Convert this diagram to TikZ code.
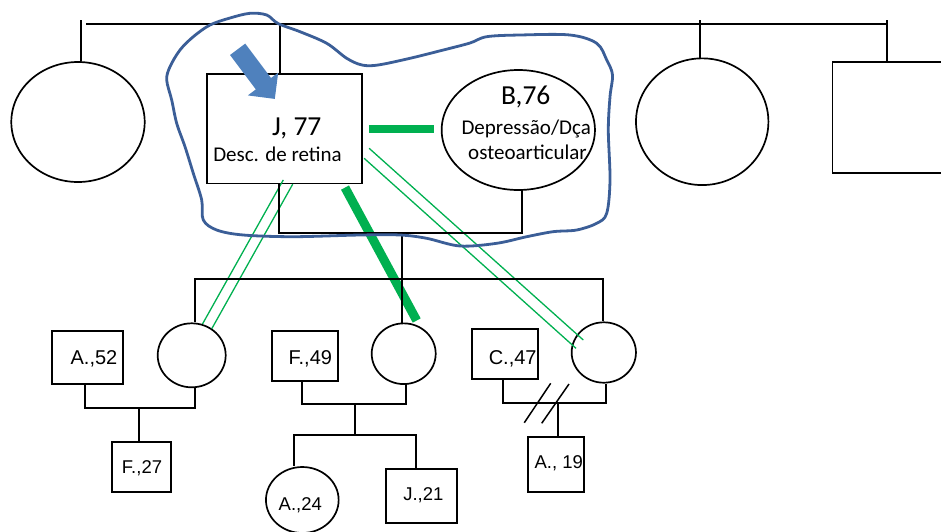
\documentclass[tikz,border=0pt]{standalone}
\usepackage{fontspec}
\setmainfont{Liberation Sans}
\newfontfamily\calibri{Carlito}
\usetikzlibrary{shapes.geometric,calc}
\definecolor{bondgreen}{RGB}{0,176,80}
\definecolor{focusblue}{RGB}{59,94,151}
\definecolor{arrowblue}{RGB}{79,129,189}

\begin{document}
\begin{tikzpicture}[x=1pt,y=-1pt,
  line/.style={line width=1.7pt, black},
  male/.style={draw, line width=1.7pt, rectangle, inner sep=0pt},
  female/.style={draw, line width=1.7pt, ellipse, inner sep=0pt},
  tag/.style={anchor=base, inner sep=0pt, font=\fontsize{20}{24}\selectfont},
  smalltag/.style={tag, font=\fontsize{18.5}{22}\selectfont},
  bigname/.style={anchor=base, inner sep=0pt, font=\calibri\fontsize{27.5}{32}\selectfont},
  note/.style={anchor=base, inner sep=0pt, font=\calibri\fontsize{21}{25}\selectfont},
  bondthin/.style={draw=bondgreen, line width=1.3pt},
  bondthick/.style={draw=bondgreen, line width=9pt},
]
\useasboundingbox (0,0) rectangle (941,531);

% first generation
\node[female, minimum width=133.4pt, minimum height=120pt] (s1) at (78,122) {};
\node[male, minimum width=155.6pt, minimum height=109.3pt] (jb) at (284.5,128.7) {};
\node[female, minimum width=153.3pt, minimum height=120pt] (bb) at (518.3,130) {};
\node[female, minimum width=132.4pt, minimum height=126.7pt] (s3) at (702.2,121.7) {};
\node[male, minimum width=113.7pt, minimum height=111pt] (s4) at (889.2,117.2) {};

\node[bigname] (jname) at (296.7,135) {J, 77};
\node[note] (jdx) at (277.5,161.7) {Desc. de retina};
\node[bigname] (bname) at (525.7,104) {B,76};
\node[note] (bdx1) at (526.2,134) {Depressão/Dça};
\node[note] (bdx2) at (527.5,159.5) {osteoarticular};

% second generation
\node[female, minimum width=68pt, minimum height=64pt] (c1) at (191.7,355.3) {};
\node[female, minimum width=64pt, minimum height=60.7pt] (c2) at (403.7,353.7) {};
\node[female, minimum width=64.3pt, minimum height=60.4pt] (c3) at (603.8,352.5) {};
\node[male, minimum width=70.4pt, minimum height=53pt] (a52) at (87.5,357.5) {};
\node[male, minimum width=66.6pt, minimum height=50pt] (f49) at (305,355.7) {};
\node[male, minimum width=66.6pt, minimum height=50pt] (c47) at (505,354.3) {};

\node[tag] (t52) at (94,364.3) {A.,52};
\node[tag] (t49) at (310.3,364.3) {F.,49};
\node[tag] (t47) at (512.7,364.3) {C.,47};

% third generation
\node[male, minimum width=58.4pt, minimum height=50pt] (f27) at (141.5,466.7) {};
\node[female, minimum width=72.7pt, minimum height=66pt] (a24) at (302.3,500) {};
\node[male, minimum width=71.6pt, minimum height=54pt] (j21) at (421.5,496.3) {};
\node[male, minimum width=56pt, minimum height=54.4pt] (a19) at (556.3,464.5) {};

\node[smalltag] (t27) at (142,473.3) {F.,27};
\node[smalltag] (t24) at (300.3,510) {A.,24};
\node[smalltag] (t21) at (423.3,500) {J.,21};
\node[smalltag] (t19) at (558.7,468.3) {A., 19};

% relationship lines
\draw[bondthin] ($(jb.south)+(-1.2,-4.3)$) -- (c1.71);
\draw[bondthin] ($(jb.south)+(8.2,0)$) -- (c1.53);
\draw[bondthick] ($(jb.south)+(60.5,3.4)$) -- ($(c2.north)+(13,-2)$);
\draw[bondgreen, line width=8.3pt] ($(jb.east)+(5.7,0)$) -- ($(bb.west |- jb.east)+(-6.7,0)$);
\draw[bondthin] ($(jb.east)+(6,19.6)$) -- ($(c3.center)+(-20.5,-12.5)$);
\draw[bondthin] ($(jb.east)+(1,29.6)$) -- ($(c3.center)+(-27.8,-4.2)$);

% sibship of the first generation
\coordinate (tl) at (86,24);
\coordinate (tr) at (886.7,24);
\draw[line] (tl) -- (tr);
\coordinate (k1) at (81,20);
\draw[line] (k1) -- (k1 |- s1.north);
\coordinate (k2) at (280,24);
\draw[line] (k2) -- (k2 |- jb.north);
\coordinate (k3) at (700,20);
\draw[line] (k3) -- (k3 |- s3.north);
\coordinate (k4) at (886.7,20);
\draw[line] (k4) -- (k4 |- s4.north);

% couple J - B and their children
\coordinate (m1) at (279,233.3);
\coordinate (m2) at (521.7,233.3);
\draw[line] (m1 |- jb.south) -- (m1) -- (m2) -- (m2 |- bb.south);
\coordinate (d0) at (401.7,233.3);
\draw[line] (d0) -- (d0 |- c2.north);
\coordinate (sl) at (194.7,279);
\coordinate (sr) at (602.7,279);
\draw[line] (sl |- c1.north) -- (sl) -- (sr) -- (sr |- c3.north);

% couple A.,52
\coordinate (p1a) at (85,408.3);
\coordinate (p1b) at (194.7,408.3);
\draw[line] (p1a |- a52.south) -- (p1a) -- (p1b) -- (p1b |- c1.south);
\coordinate (q1) at (139.3,408.3);
\draw[line] (q1) -- (q1 |- f27.north);

% couple F.,49
\coordinate (p2a) at (302.3,404);
\coordinate (p2b) at (406,404);
\draw[line] (p2a |- f49.south) -- (p2a) -- (p2b) -- (p2b |- c2.south);
\coordinate (q2) at (355,404);
\coordinate (q2s) at (355,435);
\draw[line] (q2) -- (q2s);
\coordinate (r2a) at (294.3,435);
\coordinate (r2b) at (415.7,435);
\draw[line] (r2a |- a24.north) -- (r2a) -- (r2b) -- (r2b |- j21.north);

% couple C.,47 (divorced)
\coordinate (p3a) at (502.7,402.7);
\coordinate (p3b) at (606,402.7);
\draw[line] (p3a |- c47.south) -- (p3a) -- (p3b) -- (p3b |- c3.south);
\coordinate (q3) at (558.3,402.7);
\draw[line] (q3) -- (q3 |- a19.north);
\draw[line, line width=1.5pt] ($(q3)+(-34,20)$) -- ($(q3)+(-7.6,-19.4)$);
\draw[line, line width=1.5pt] ($(q3)+(-16.6,20.6)$) -- ($(q3)+(10.7,-18.7)$);

% household outline
\draw[focusblue, line width=2.8pt, line join=round]
  plot[smooth cycle, tension=0.55] coordinates {
    (250,13.3) (266.7,15) (278,23.5) (300,31.7) (326.7,43.3) (346.7,58.3)
    (362,65) (378,65) (410,58.3) (443.3,50) (470,43) (486.7,36.7)
    (520,35) (570,35) (596.7,43.3) (606.7,60) (612.5,75) (610,96.7)
    (608.3,130) (610,180) (606.7,213.3) (596.7,223.3) (576.7,230)
    (553,231.7) (526.7,236.7) (496.7,243.3) (460,246) (426.7,238.3)
    (400,235) (360,235) (293.3,236.7) (243.3,235) (216.7,230)
    (203.3,220) (201.7,200) (193.3,173.3) (185,146.7) (176.7,123.3)
    (171.7,100) (166.7,80) (170,66.7) (180,50) (193.3,36.7) (210,25)
    (230,18)};

% index-person arrow
\fill[arrowblue] (230,55) -- (255.8,89.4) -- (247.8,95.4) -- (274.8,98.9)
  -- (278.2,72.6) -- (271,78) -- (245.2,43.6) -- cycle;
\end{tikzpicture}
\end{document}
